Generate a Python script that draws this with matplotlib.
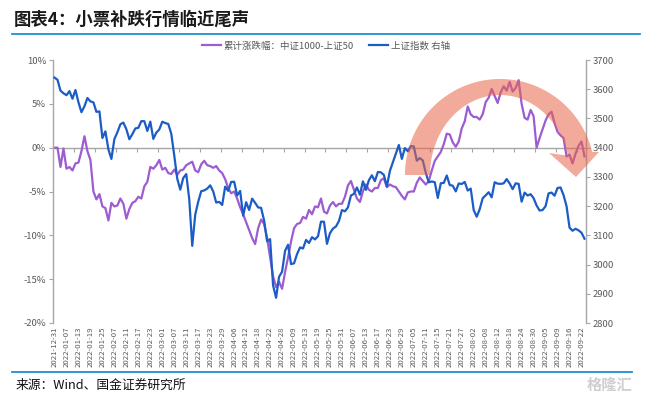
import numpy as np
import matplotlib
matplotlib.use("Agg")
import matplotlib.pyplot as plt
from matplotlib.patches import Polygon
from matplotlib.lines import Line2D

plt.rcParams['font.family'] = ['Noto Sans CJK SC', 'DejaVu Sans']

# ---------------- data ----------------
trade_days = {
    1: [4, 5, 6, 7, 10, 11, 12, 13, 14, 17, 18, 19, 20, 21, 24, 25, 26, 27, 28],
    2: [7, 8, 9, 10, 11, 14, 15, 16, 17, 18, 21, 22, 23, 24, 25, 28],
    3: [1, 2, 3, 4, 7, 8, 9, 10, 11, 14, 15, 16, 17, 18, 21, 22, 23, 24, 25, 28, 29, 30, 31],
    4: [1, 6, 7, 8, 11, 12, 13, 14, 15, 18, 19, 20, 21, 22, 25, 26, 27, 28, 29],
    5: [5, 6, 9, 10, 11, 12, 13, 16, 17, 18, 19, 20, 23, 24, 25, 26, 27, 30, 31],
    6: [1, 2, 6, 7, 8, 9, 10, 13, 14, 15, 16, 17, 20, 21, 22, 23, 24, 27, 28, 29, 30],
    7: [1, 4, 5, 6, 7, 8, 11, 12, 13, 14, 15, 18, 19, 20, 21, 22, 25, 26, 27, 28, 29],
    8: [1, 2, 3, 4, 5, 8, 9, 10, 11, 12, 15, 16, 17, 18, 19, 22, 23, 24, 25, 26, 29, 30, 31],
    9: [1, 2, 5, 6, 7, 8, 9, 13, 14, 15, 16, 19, 20, 21, 22, 23],
}
dates = ['2021-12-31'] + [f'2022-{m:02d}-{d:02d}' for m in range(1, 10) for d in trade_days[m]]

# 上证指数 (right axis)
sse = [3639.78, 3632.33, 3595.18, 3586.08, 3579.54, 3593.52, 3567.44, 3597.43, 3555.26, 3521.26,
       3541.67, 3569.91, 3558.18, 3555.06, 3522.57, 3524.11, 3433.06, 3455.67, 3394.25, 3361.44,
       3429.58, 3452.63, 3479.95, 3485.91, 3462.95, 3428.88, 3446.09, 3465.83, 3468.04, 3490.76,
       3490.61, 3457.15, 3489.15, 3429.96, 3451.41, 3462.31, 3488.83, 3484.19, 3481.11, 3447.65,
       3372.86, 3293.53, 3256.39, 3296.09, 3309.75, 3223.53, 3063.97, 3170.71, 3215.04, 3251.07,
       3253.69, 3259.86, 3271.03, 3250.26, 3212.24, 3214.50, 3203.94, 3266.60, 3252.20, 3282.72,
       3283.43, 3236.70, 3251.85, 3167.13, 3213.33, 3186.82, 3225.64, 3211.24, 3195.52, 3194.03,
       3151.05, 3079.81, 3086.92, 2928.51, 2886.43, 2958.28, 2975.48, 3047.06, 3067.76, 3001.56,
       3004.14, 3035.84, 3058.70, 3054.99, 3084.28, 3073.75, 3093.70, 3085.98, 3096.96, 3146.86,
       3146.57, 3070.93, 3107.46, 3123.11, 3130.24, 3149.06, 3186.43, 3182.16, 3195.46, 3236.37,
       3241.76, 3263.79, 3238.95, 3284.83, 3255.55, 3288.91, 3305.41, 3285.38, 3316.79, 3315.43,
       3306.72, 3267.20, 3320.15, 3349.75, 3379.19, 3409.21, 3361.52, 3398.62, 3387.64, 3405.43,
       3404.03, 3355.35, 3364.40, 3356.08, 3313.58, 3281.47, 3284.29, 3281.74, 3228.06, 3278.10,
       3279.43, 3304.72, 3272.00, 3269.97, 3250.39, 3277.44, 3275.76, 3282.58, 3253.24, 3259.96,
       3186.27, 3163.67, 3189.04, 3227.03, 3236.93, 3247.43, 3230.02, 3281.67, 3276.89, 3276.09,
       3277.88, 3292.53, 3277.54, 3258.08, 3277.79, 3276.22, 3215.20, 3246.25, 3236.22, 3240.73,
       3227.22, 3202.14, 3184.98, 3186.48, 3199.91, 3243.45, 3246.29, 3235.59, 3262.05, 3263.80,
       3237.54, 3199.92, 3126.40, 3115.60, 3122.41, 3117.18, 3108.91, 3088.37]

# 累计涨跌幅：中证1000-上证50 (left axis, %)
spread = [0.0, 0.0, -2.2, -0.1, -2.4, -2.2, -2.6, -1.8, -1.7, -0.4,
          1.3, -0.4, -1.4, -5.0, -5.9, -5.3, -6.7, -6.9, -8.3, -6.3,
          -6.7, -6.6, -5.8, -6.4, -8.1, -7.0, -6.3, -6.1, -5.6, -5.8,
          -4.4, -3.9, -2.2, -2.4, -2.0, -1.4, -2.5, -2.3, -2.9, -3.0,
          -2.5, -3.1, -2.6, -2.5, -2.0, -1.8, -1.6, -2.6, -2.8, -1.9,
          -1.5, -2.0, -2.1, -2.3, -2.1, -2.6, -2.9, -3.6, -4.6, -5.2,
          -5.0, -5.8, -6.8, -7.6, -8.5, -9.4, -10.3, -11.0, -9.2, -8.2,
          -8.7, -10.3, -12.5, -14.7, -15.9, -15.3, -16.1, -14.2, -12.5, -10.7,
          -9.2, -8.7, -8.6, -7.9, -8.1, -7.1, -7.6, -6.7, -6.8, -5.8,
          -7.3, -7.5, -6.6, -6.2, -6.7, -6.4, -6.4, -5.6, -4.3, -3.8,
          -4.8, -5.8, -6.2, -5.0, -4.2, -4.8, -5.0, -4.6, -4.6, -3.7,
          -3.5, -4.5, -4.2, -4.4, -4.5, -5.0, -5.5, -5.9, -5.1, -5.0,
          -5.0, -4.0, -3.4, -3.8, -4.2, -3.8, -2.6, -1.5, -1.0, -0.5,
          0.4, 1.6, 1.5, 0.6, 0.1, 0.7, 2.2, 3.0, 4.7, 3.8,
          3.5, 3.5, 3.2, 3.8, 5.2, 5.7, 6.7, 5.9, 5.1, 6.3,
          7.0, 6.5, 7.5, 6.4, 6.8, 7.7, 5.0, 3.4, 3.2, 4.3,
          3.6, 0.0, 1.1, 2.1, 3.1, 3.8, 4.1, 2.8, 1.8, 1.4,
          1.1, -1.0, -0.8, -1.8, -0.7, 0.2, 0.7, -1.0]

left_ticks = [-20, -15, -10, -5, 0, 5, 10]
right_ticks = [2800, 2900, 3000, 3100, 3200, 3300, 3400, 3500, 3600, 3700]
series_names = ['累计涨跌幅：中证1000-上证50', '上证指数 右轴']

# ---------------- style ----------------
W, H = 649, 399
PURPLE = '#9D5CD2'
BLUE = '#1C5CC6'
GRAY = '#A6A6A6'
TXT = '#595959'
RULE = '#1E90CF'

fig = plt.figure(figsize=(W / 100, H / 100), dpi=100)
ax = fig.add_axes([53 / W, 1 - 323 / H, (586 - 53) / W, (323 - 60) / H])
ax2 = ax.twinx()

x = np.arange(len(dates))
l1, = ax.plot(x, spread, color=PURPLE, lw=1.6, solid_joinstyle='round')
l2, = ax2.plot(x, sse, color=BLUE, lw=1.6, solid_joinstyle='round')

ax.set_xlim(-0.5, len(dates) - 0.5)
ax.set_ylim(-20, 10)
ax2.set_ylim(2800, 3700)

ax.set_yticks(left_ticks)
ax.set_yticklabels([f'{v}%' for v in left_ticks])
ax2.set_yticks(right_ticks)
ax2.set_yticklabels([str(v) for v in right_ticks])

ax.set_xticks(x[::4])
ax.set_xticklabels(dates[::4], rotation=90, fontsize=5.6, color=TXT, va='top', ha='center')
ax.tick_params(axis='x', length=0, pad=2.5)
ax.tick_params(axis='y', colors=GRAY, labelcolor=TXT, labelsize=6.8, length=3, width=0.8, pad=2)
ax2.tick_params(axis='y', colors=GRAY, labelcolor=TXT, labelsize=6.8, length=3, width=0.8, pad=2)

for s in ['top', 'bottom', 'right']:
    ax.spines[s].set_visible(False)
for s in ['top', 'bottom', 'left']:
    ax2.spines[s].set_visible(False)
ax.spines['left'].set_color(GRAY)
ax.spines['left'].set_linewidth(1.0)
ax2.spines['right'].set_color(GRAY)
ax2.spines['right'].set_linewidth(1.0)

# zero line (category axis crossing at 0)
sec = ax.secondary_xaxis(2 / 3)
sec.set_xticks(np.arange(6.5, len(dates), 7))
sec.tick_params(direction='in', length=3, width=0.8, colors=GRAY, labeltop=False, labelbottom=False)
for s in sec.spines.values():
    s.set_color(GRAY)
    s.set_linewidth(1.0)

# legend
fig.legend([l1, l2], series_names, loc='center', bbox_to_anchor=(326 / W, 1 - 46 / H),
           ncol=2, frameon=False, fontsize=6.8, handlelength=2.0, columnspacing=1.6,
           handletextpad=0.3, labelcolor=TXT)

# curved arrow (overlay)
cx, cy = 500, 175
th = np.radians(np.linspace(180, 14, 80))
outer = np.c_[cx + 95 * np.cos(th), cy - 96 * np.sin(th)]
inner = np.c_[cx + 70 * np.cos(th[::-1]), cy - 80 * np.sin(th[::-1])]
head = np.array([[599, 152], [576, 177], [549, 153]])
pts = np.vstack([outer, head, inner])
pts_fig = np.c_[pts[:, 0] / W, 1 - pts[:, 1] / H]
arrow = Polygon(pts_fig, closed=True, transform=fig.transFigure, facecolor='#E8644A',
                alpha=0.55, edgecolor='none', zorder=5)
fig.add_artist(arrow)

# title, rules, footer
fig.text(14 / W, 1 - 20 / H, '图表4：小票补跌行情临近尾声', fontsize=12.5, fontweight='bold',
         color='#1A1A1A', va='center', ha='left')
fig.add_artist(Line2D([12 / W, 640 / W], [1 - 34 / H] * 2, color=RULE, lw=1.3))
fig.add_artist(Line2D([12 / W, 632 / W], [1 - 372 / H] * 2, color=RULE, lw=1.3))
fig.text(16 / W, 1 - 385 / H, '来源：Wind、国金证券研究所', fontsize=9.2, color='#111111',
         va='center', ha='left')
fig.text(610 / W, 1 - 385 / H, '格隆汇', fontsize=11, color='#CFCFCF', va='center', ha='center',
         fontweight='bold')

fig.savefig('out.png', dpi=100)
